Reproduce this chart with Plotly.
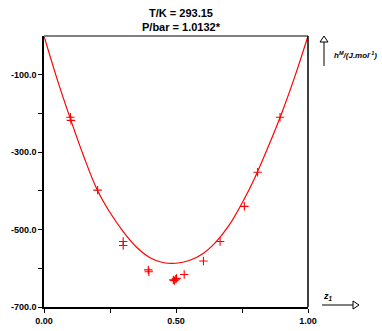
import plotly.graph_objects as go

# Experimental points (z1, hM / J.mol-1)
exp_z = [0.100, 0.102, 0.203, 0.300, 0.300, 0.395, 0.397, 0.490, 0.494, 0.499, 0.502, 0.531, 0.604, 0.667, 0.759, 0.809, 0.894]
exp_h = [-210, -218, -398, -531, -541, -604, -609, -630, -632, -628, -626, -616, -581, -531, -440, -352, -210]

# Correlated curve
curve_z = [0, 0.05, 0.1, 0.15, 0.2, 0.25, 0.3, 0.35, 0.4, 0.45, 0.5, 0.55, 0.6, 0.65, 0.7, 0.75, 0.8, 0.85, 0.9, 0.95, 1.0]
curve_h = [0, -112, -214, -310, -395, -456, -505, -545, -572, -585, -587, -580, -563, -533, -490, -432, -364, -285, -200, -105, 0]

y_ticks = [-700, -600, -500, -400, -300, -200, -100]
y_ticktext = ["-700.0", "", "-500.0", "", "-300.0", "", "-100.0"]
x_ticks = [0, 0.25, 0.5, 0.75, 1.0]
x_ticktext = ["0.00", "", "0.50", "", "1.00"]

fig = go.Figure()
fig.add_trace(go.Scatter(x=curve_z, y=curve_h, mode="lines", line=dict(color="#ff0000", width=1.2, shape="spline"),
                         hoverinfo="skip"))
fig.add_trace(go.Scatter(x=exp_z, y=exp_h, mode="markers",
                         marker=dict(symbol="cross-thin", size=6, line=dict(color="#ff0000", width=1.1), color="#ff0000")))

L, R, T, B = 44, 308, 36, 307
W, H = 382, 331

def px(x):
    return (x - L) / (R - L)

def py(y):
    return (B - y) / (B - T)

shapes = [
    dict(type="line", xref="paper", yref="paper", x0=0, x1=1, y0=1, y1=1, line=dict(color="#808080", width=2)),
    dict(type="line", xref="paper", yref="paper", x0=1, x1=1, y0=0, y1=1, line=dict(color="#000000", width=1.5)),
    # y arrow
    dict(type="line", xref="paper", yref="paper", x0=px(324), x1=px(324), y0=py(66), y1=py(42), line=dict(color="#000", width=1)),
    dict(type="path", xref="paper", yref="paper",
         path=f"M {px(324)},{py(36)} L {px(320)},{py(42)} L {px(328)},{py(42)} Z", line=dict(color="#000", width=1), fillcolor="white"),
    # x arrow
    dict(type="line", xref="paper", yref="paper", x0=px(322), x1=px(353), y0=py(305), y1=py(305), line=dict(color="#000", width=1)),
    dict(type="path", xref="paper", yref="paper",
         path=f"M {px(359)},{py(305)} L {px(353)},{py(301)} L {px(353)},{py(309)} Z", line=dict(color="#000", width=1), fillcolor="white"),
]

annotations = [
    dict(text="<b><i>h<sup>M</sup>/(J.mol<sup>-1</sup>)</i></b>", xref="paper", yref="paper", x=px(332), y=py(55),
         xanchor="left", yanchor="middle", showarrow=False, font=dict(size=8, color="#000", family="Arial")),
    dict(text="<b><i>z<sub>1</sub></i></b>", xref="paper", yref="paper", x=px(321), y=py(296),
         xanchor="left", yanchor="middle", showarrow=False, font=dict(size=9, color="#000", family="Arial")),
    dict(text="<b>T/K = 293.15<br>P/bar = 1.0132*</b>", xref="paper", yref="paper", x=px(181), y=py(20),
         xanchor="center", yanchor="middle", showarrow=False, font=dict(size=11, color="#000", family="Arial")),
]

fig.update_layout(
    width=W, height=H,
    margin=dict(l=L, r=W - R, t=T, b=H - B, autoexpand=False),
    paper_bgcolor="white", plot_bgcolor="white",
    showlegend=False,
    font=dict(family="Arial", size=9, color="#000"),
    xaxis=dict(range=[0, 1], tickvals=x_ticks, ticktext=x_ticktext, ticks="outside", ticklen=4,
               tickcolor="#000", showline=True, linecolor="#000", linewidth=1.5, showgrid=False, zeroline=False,
               automargin=False,
               tickfont=dict(family="Arial", size=9, color="#000", weight="bold")),
    yaxis=dict(range=[-700, 0], tickvals=y_ticks, ticktext=y_ticktext, ticks="outside", ticklen=4,
               tickcolor="#000", showline=True, linecolor="#000", linewidth=1.5, showgrid=False, zeroline=False,
               automargin=False,
               tickfont=dict(family="Arial", size=9, color="#000", weight="bold")),
    shapes=shapes, annotations=annotations,
)

fig.write_html("out.html", config={"displayModeBar": False},
               post_script="document.body.style.margin='0';document.body.style.overflow='hidden';")
